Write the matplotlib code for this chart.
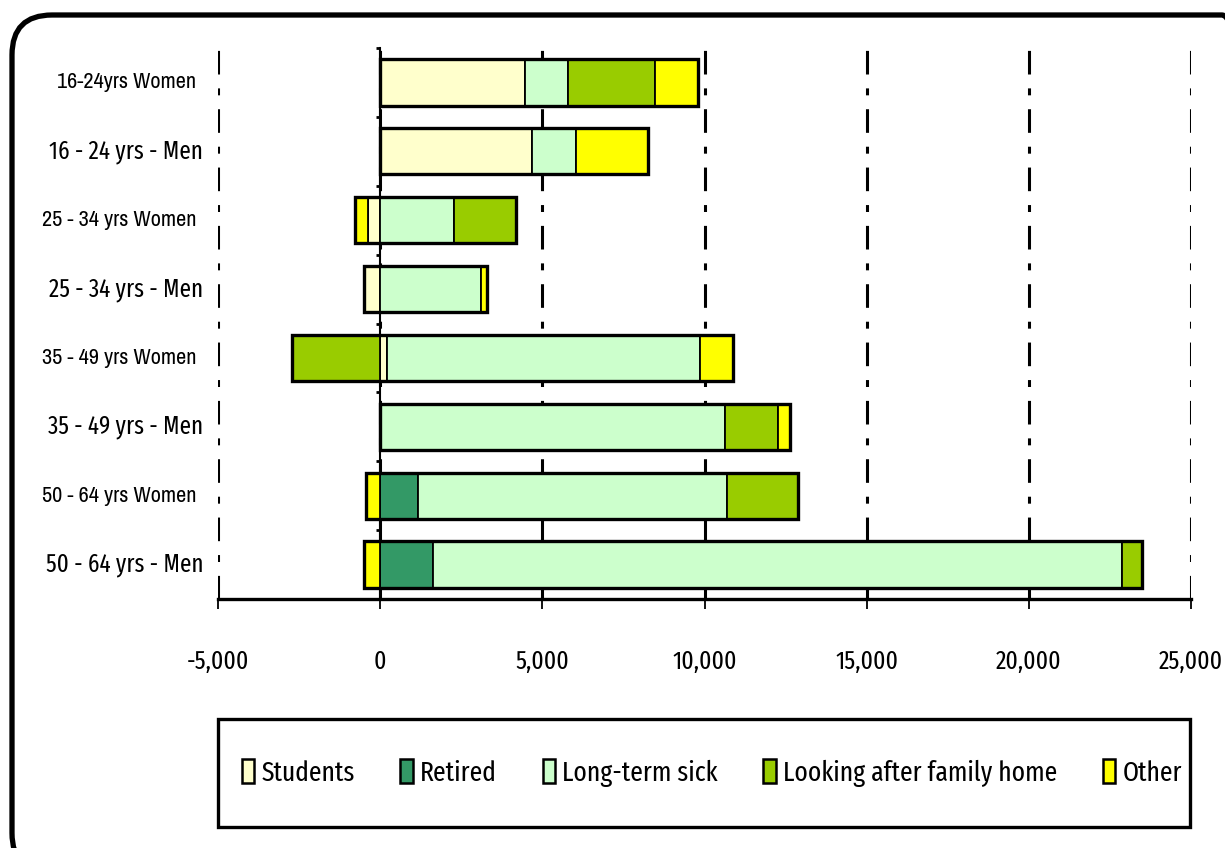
import numpy as np
import matplotlib.pyplot as plt
from matplotlib.patches import Patch, Rectangle, FancyBboxPatch
from matplotlib.transforms import IdentityTransform, blended_transform_factory

plt.rcParams['font.family'] = ['Archivo Narrow', 'DejaVu Sans']
plt.rcParams['lines.scale_dashes'] = False
BIG = ['Fira Sans Extra Condensed', 'Archivo Narrow', 'DejaVu Sans']

groups = ['16-24yrs Women', '16 - 24 yrs - Men', '25 - 34 yrs Women', '25 - 34 yrs - Men',
          '35 - 49 yrs Women', '35 - 49 yrs - Men', '50 - 64 yrs Women', '50 - 64 yrs - Men']
students = [4470, 4680, -390, -490, 215, 0, 0, 0]
retired = [0, 0, 0, 0, 0, 0, 1170, 1620]
sick = [1320, 1350, 2280, 3120, 9650, 10640, 9530, 21240]
family = [2690, 0, 1900, 0, -2720, 1630, 2180, 615]
other = [1330, 2220, -390, 165, 1000, 365, -440, -490]

series = ['Students', 'Retired', 'Long-term sick', 'Looking after family home', 'Other']
colors = ['#FFFFCC', '#339966', '#CCFFCC', '#99CC00', '#FFFF00']
values = [students, retired, sick, family, other]

fig = plt.figure(figsize=(12.25, 8.48), dpi=100)
ax = fig.add_axes([218 / 1225, 1 - 599 / 848, (1191 - 218) / 1225, (599 - 48) / 848])

y = np.arange(len(groups))
pos = np.zeros(len(groups))
neg = np.zeros(len(groups))
h = 0.67
for name, col, vals in zip(series, colors, values):
    v = np.array(vals, dtype=float)
    left = np.where(v >= 0, pos, neg + v)
    ax.barh(y, np.abs(v), left=left, height=h, color=col, edgecolor='black',
            linewidth=1.3, zorder=3)
    pos += np.where(v > 0, v, 0)
    neg += np.where(v < 0, v, 0)

# thicker outline around each whole bar
for yi, lo, hi in zip(y, neg, pos):
    ax.add_patch(Rectangle((lo, yi - h / 2), hi - lo, h, fill=False,
                           edgecolor='black', linewidth=2.4, zorder=4))

ax.set_xlim(-5000, 25000)
ax.set_ylim(len(groups) - 0.5, -0.5)
ax.set_xticks(np.arange(-5000, 25001, 5000))
ax.set_xticklabels([f'{t:,}' for t in range(-5000, 25001, 5000)], fontsize=18.5, family=BIG)
ax.tick_params(axis='x', direction='out', length=7, width=1.3, pad=29)

ax.spines['left'].set_position(('data', 0))
ax.spines['left'].set_linewidth(1.5)
ax.spines['bottom'].set_linewidth(2.4)
ax.spines['top'].set_visible(False)
ax.spines['right'].set_visible(False)
ax.set_yticks(np.arange(-0.5, len(groups), 1.0))
ax.set_yticklabels([])
ax.tick_params(axis='y', direction='out', length=3, width=2)

ax.grid(axis='x', color='black', linewidth=2.2, linestyle=(0, (17, 10, 5, 10)), zorder=1)
ax.set_axisbelow(True)

trans = blended_transform_factory(ax.transAxes, ax.transData)
for yi, g in zip(y, groups):
    if 'Women' in g:
        ax.text(-22 / 973, yi, g, transform=trans, ha='right', va='center', fontsize=16)
    else:
        ax.text(-15 / 973, yi, g, transform=trans, ha='right', va='center', fontsize=18,
                family=BIG)

# legend box
fig.add_artist(Rectangle((218 / 1225, 1 - 827 / 848), 972 / 1225, 108 / 848,
                         transform=fig.transFigure, fill=False, edgecolor='black',
                         linewidth=2.4))
handles = [Patch(facecolor=c, edgecolor='black', linewidth=1.8) for c in colors]
fig.legend(handles, series, loc='center', bbox_to_anchor=(0.581, 1 - 773 / 848),
           ncol=5, frameon=False, prop={'family': BIG, 'size': 20}, handlelength=0.45,
           handleheight=0.9, handletextpad=0.25, columnspacing=1.65)

# rounded outer frame
fig.add_artist(FancyBboxPatch((12, -25), 1250, 833 + 25, boxstyle='round,pad=0,rounding_size=40',
                              transform=IdentityTransform(), fill=False, edgecolor='black',
                              linewidth=3.8))

fig.savefig('out.png', dpi=100)
